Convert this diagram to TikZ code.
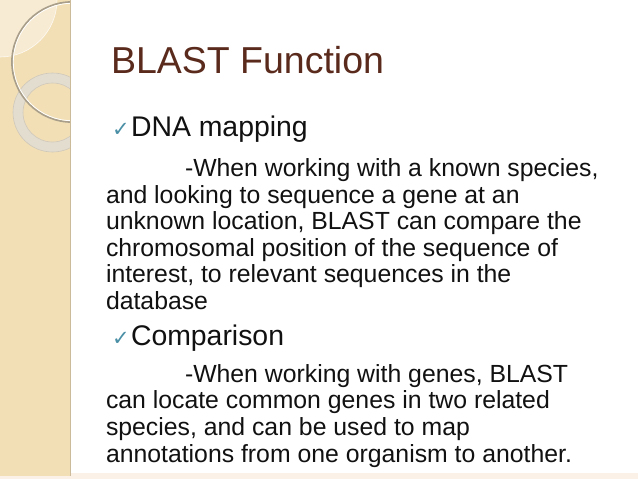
\documentclass[tikz,border=0pt]{standalone}
\usepackage{fontspec}
\setmainfont{Liberation Sans}
\newfontfamily\symfont{DejaVu Sans}
\definecolor{stripbeige}{HTML}{F2DFB5}
\definecolor{patch}{HTML}{F7EBD3}
\definecolor{stripedge}{HTML}{CBBB9B}
\definecolor{arcdark}{HTML}{A89E8A}
\definecolor{ringgrey}{HTML}{E2DDD2}
\definecolor{ringedge}{HTML}{CFC8BA}
\definecolor{bottomband}{HTML}{FBF1E6}
\definecolor{titlebrown}{HTML}{5A2A1C}
\definecolor{tickblue}{HTML}{4A8FA6}
\definecolor{textblack}{HTML}{111111}
\begin{document}
\begin{tikzpicture}[x=1pt,y=-1pt,
  txt/.style={anchor=base west,inner sep=0pt,outer sep=0pt,text=textblack},
  titletext/.style={txt,text=titlebrown,font=\fontsize{37.5}{40}\selectfont},
  headtext/.style={txt,font=\fontsize{28.4}{30}\selectfont},
  bodytext/.style={txt,font=\fontsize{24.8}{26}\selectfont},
  ticktext/.style={txt,text=tickblue,font=\symfont\fontsize{21}{23}\selectfont}]
\useasboundingbox (0,0) rectangle (638,479);
\fill[white] (0,0) rectangle (638,479);
\fill[bottomband] (0,473) rectangle (638,479);
\fill[stripbeige] (0,0) rectangle (70,476);
\begin{scope}
  \clip (0,0) rectangle (70,476);
  \fill[patch] (0,0) circle[radius=57];
  \draw[white,line width=0.6,opacity=0.8] (0,0) circle[radius=57];
  \fill[ringgrey,even odd rule,opacity=0.9] (52.5,112.5) circle[radius=39.5] (52.5,112.5) circle[radius=29.5];
  \draw[ringedge,line width=0.6] (52.5,112.5) circle[radius=39.5];
  \draw[ringedge,line width=0.6] (52.5,112.5) circle[radius=29.5];
  \draw[arcdark,line width=1.8] (72,62) circle[radius=60];
  \draw[white,line width=0.8] (72,62) circle[radius=58.7];
\end{scope}
\draw[stripedge,line width=1.6] (70.5,0) -- (70.5,476);

\node[titletext] (title) at (111,73) {BLAST Function};

\node[ticktext] (tick1) at (112,136) {✓};
\node[headtext] (head1) at (131,136) {DNA mapping};
\node[bodytext] (b1) at (185,176) {-When working with a known species,};
\node[bodytext] (b2) at (106,203) {and looking to sequence a gene at an};
\node[bodytext] (b3) at (106,229) {unknown location, BLAST can compare the};
\node[bodytext] (b4) at (106,256) {chromosomal position of the sequence of};
\node[bodytext] (b5) at (106,282) {interest, to relevant sequences in the};
\node[bodytext] (b6) at (106,309) {database};

\node[ticktext] (tick2) at (112,345) {✓};
\node[headtext] (head2) at (131,345) {Comparison};
\node[bodytext] (c1) at (185,382) {-When working with genes, BLAST};
\node[bodytext] (c2) at (106,408) {can locate common genes in two related};
\node[bodytext] (c3) at (106,435) {species, and can be used to map};
\node[bodytext] (c4) at (106,462) {annotations from one organism to another.};
\end{tikzpicture}
\end{document}
